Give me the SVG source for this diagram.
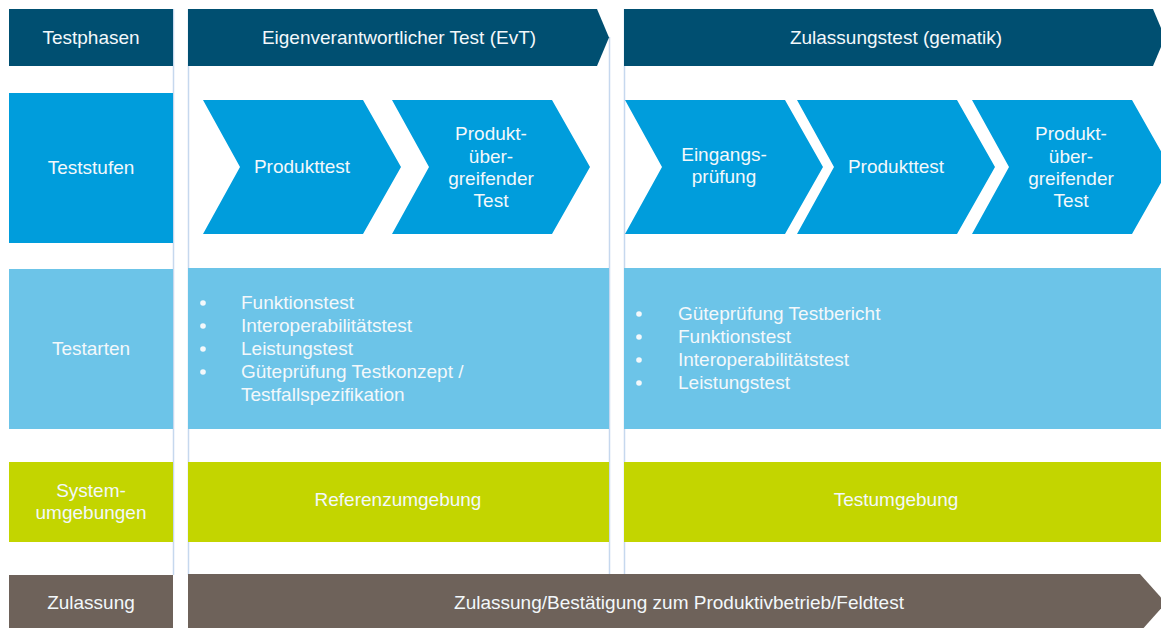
<svg xmlns="http://www.w3.org/2000/svg" width="1161" height="628" viewBox="0 0 1161 628">
<defs>
<style>
text{font-family:"Liberation Sans",Arial,sans-serif;font-size:19px;fill:#f3f8fb}
.c{text-anchor:middle}
.hd{fill:#004f71}
.st{fill:#009ddc}
.ar{fill:#6cc4e8}
.gr{fill:#c3d500}
.br{fill:#6e625a}
.vl{stroke:#c6d8ee;stroke-width:1.5;fill:none}
.dot{fill:#f3f8fb}
</style>
</defs>
<rect width="1161" height="628" fill="#ffffff"/>
<g id="connectors">
<line class="vl" x1="173.5" y1="9" x2="173.5" y2="575"/>
<line class="vl" x1="188.5" y1="9" x2="188.5" y2="575"/>
<line class="vl" x1="609.5" y1="37" x2="609.5" y2="575"/>
<line class="vl" x1="624.5" y1="9" x2="624.5" y2="575"/>
</g>
<g id="row-testphasen">
<rect class="hd" x="9" y="9" width="164" height="57"/>
<text class="c" x="91" y="44">Testphasen</text>
</g>
<g id="phase-evt">
<polygon class="hd" points="188,9 597,9 609,37.5 597,66 188,66"/>
<text class="c" x="399" y="44">Eigenverantwortlicher Test (EvT)</text>
</g>
<g id="phase-zulassung">
<polygon class="hd" points="624,9 1153,9 1165,37.5 1153,66 624,66"/>
<text class="c" x="896" y="44">Zulassungstest (gematik)</text>
</g>
<g id="row-teststufen">
<rect class="st" x="9" y="93" width="164" height="150"/>
<text class="c" x="91" y="174">Teststufen</text>
</g>
<g id="stufe-evt-produkttest">
<polygon class="st" points="203,100 363,100 401,167 363,234 203,234 240,167"/>
<text class="c" x="302" y="173">Produkttest</text>
</g>
<g id="stufe-evt-produktuebergreifend">
<polygon class="st" points="392,100 552,100 590,167 552,234 392,234 429,167"/>
<text class="c" x="491" y="140">Produkt-</text>
<text class="c" x="491" y="163">über-</text>
<text class="c" x="491" y="185">greifender</text>
<text class="c" x="491" y="207">Test</text>
</g>
<g id="stufe-zul-eingangspruefung">
<polygon class="st" points="625,100 785,100 823,167 785,234 625,234 662,167"/>
<text class="c" x="724" y="161">Eingangs-</text>
<text class="c" x="724" y="183">prüfung</text>
</g>
<g id="stufe-zul-produkttest">
<polygon class="st" points="797,100 957,100 995,167 957,234 797,234 834,167"/>
<text class="c" x="896" y="173">Produkttest</text>
</g>
<g id="stufe-zul-produktuebergreifend">
<polygon class="st" points="972,100 1132,100 1170,167 1132,234 972,234 1009,167"/>
<text class="c" x="1071" y="140">Produkt-</text>
<text class="c" x="1071" y="163">über-</text>
<text class="c" x="1071" y="185">greifender</text>
<text class="c" x="1071" y="207">Test</text>
</g>
<g id="row-testarten">
<rect class="ar" x="9" y="269" width="164" height="160"/>
<text class="c" x="91" y="355">Testarten</text>
</g>
<g id="arten-evt">
<rect class="ar" x="188" y="268" width="421" height="161"/>
<circle class="dot" cx="203" cy="303" r="2.8"/>
<circle class="dot" cx="203" cy="326" r="2.8"/>
<circle class="dot" cx="203" cy="349" r="2.8"/>
<circle class="dot" cx="203" cy="372" r="2.8"/>
<text x="241" y="309">Funktionstest</text>
<text x="241" y="332">Interoperabilitätstest</text>
<text x="241" y="355">Leistungstest</text>
<text x="241" y="378">Güteprüfung Testkonzept /</text>
<text x="241" y="401">Testfallspezifikation</text>
</g>
<g id="arten-zulassung">
<rect class="ar" x="624" y="268" width="537" height="161"/>
<circle class="dot" cx="639" cy="314" r="2.8"/>
<circle class="dot" cx="639" cy="337" r="2.8"/>
<circle class="dot" cx="639" cy="360" r="2.8"/>
<circle class="dot" cx="639" cy="383" r="2.8"/>
<text x="678" y="320">Güteprüfung Testbericht</text>
<text x="678" y="343">Funktionstest</text>
<text x="678" y="366">Interoperabilitätstest</text>
<text x="678" y="389">Leistungstest</text>
</g>
<g id="row-systemumgebungen">
<rect class="gr" x="9" y="462" width="164" height="80"/>
<text class="c" x="91" y="497">System-</text>
<text class="c" x="91" y="519">umgebungen</text>
</g>
<g id="umgebung-evt">
<rect class="gr" x="188" y="462" width="421" height="80"/>
<text class="c" x="398" y="506">Referenzumgebung</text>
</g>
<g id="umgebung-zulassung">
<rect class="gr" x="624" y="462" width="537" height="80"/>
<text class="c" x="896" y="506">Testumgebung</text>
</g>
<g id="row-zulassung">
<rect class="br" x="9" y="575" width="164" height="60"/>
<text class="c" x="91" y="609">Zulassung</text>
</g>
<g id="zulassung-arrow">
<polygon class="br" points="188,574 1140,574 1166,603 1140,632 188,632"/>
<text class="c" x="679" y="609">Zulassung/Bestätigung zum Produktivbetrieb/Feldtest</text>
</g>
</svg>
